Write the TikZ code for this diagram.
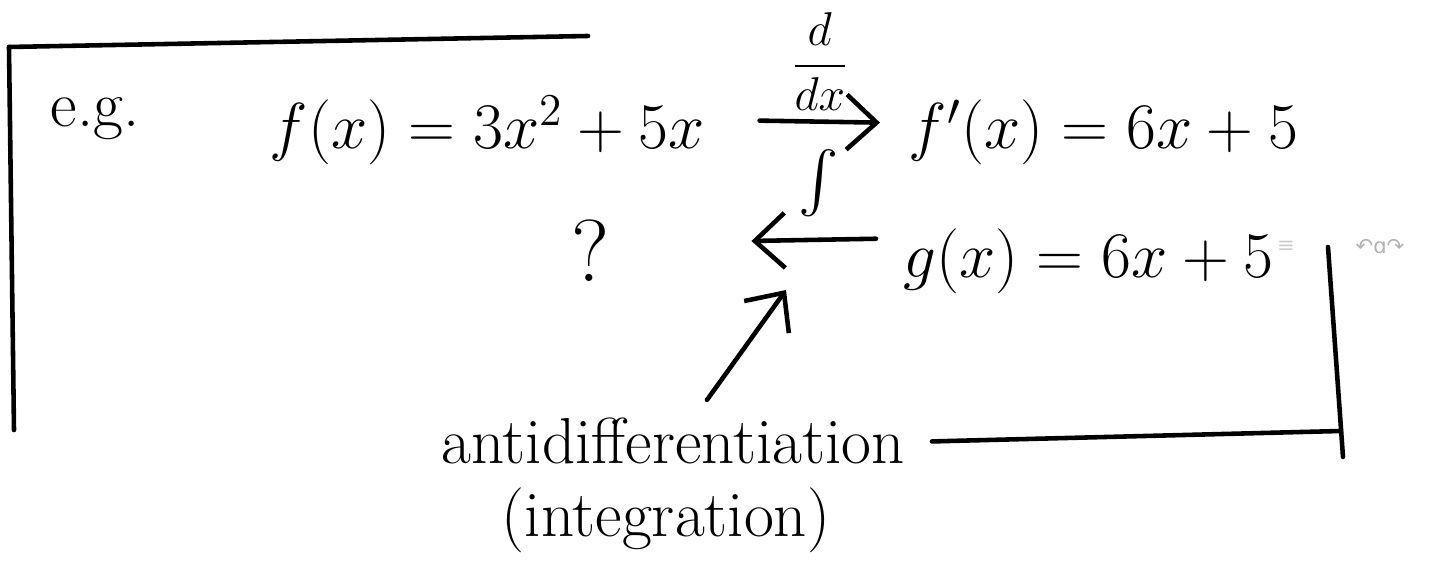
\documentclass[tikz,border=0pt]{standalone}
\usepackage{fix-cm}
\usepackage{amsmath}
\usepackage{fontspec}
\newfontfamily\symfont{DejaVu Sans}
\usetikzlibrary{arrows.meta}
\begin{document}
\begin{tikzpicture}[scale=1.0, every node/.style={font=\fontsize{18.5}{22}\selectfont},
    hand/.style={line width=1.3pt, line cap=round},
    barb/.style={-{Straight Barb[length=3mm,width=5.5mm]}}]
  \useasboundingbox (0,0) rectangle (14.31,5.69);
  \coordinate (cTL) at (0.09,5.22);
  \coordinate (cTR) at (5.88,5.33);
  \coordinate (cBL) at (0.14,1.39);
  \coordinate (cRT) at (13.28,3.22);
  \coordinate (cRB) at (13.43,1.12);
  \coordinate (cBR) at (13.41,1.38);
  \coordinate (tip) at (7.86,2.79);
  \draw[hand] (cTL) -- (cTR);
  \draw[hand] (cTL) -- (cBL);
  \draw[hand] (cRT) -- (cRB);
  \node (eg) at (0.95,4.50) {e.g.};
  \node[anchor=base west, inner sep=0] (f)  at (2.69,4.20) {$f(x) = 3x^2+5x$};
  \node[anchor=base west, inner sep=0] (fp) at (9.08,4.20) {$f'(x) = 6x+5$};
  \node[anchor=base west, inner sep=0] (g)  at (9.03,2.91) {$g(x) = 6x+5$};
  \node[font=\fontsize{25}{30}\selectfont] (q) at (5.91,3.18) {?};
  \node[inner sep=0] (int) at (8.19,3.86) {$\int$};
  \node[anchor=base] (anti)  at (6.73,1.05) {antidifferentiation};
  \node[anchor=base] (integ) at (6.66,0.32) {(integration)};
  \node[font=\symfont\fontsize{6}{7}\selectfont, text=black!30] (undo) at (13.80,3.22) {↶ɑ↷};
  \node[font=\symfont\fontsize{6}{7}\selectfont, text=black!20] (eqs)  at (12.86,3.22) {≡};
  \draw[hand, barb] ([xshift=5.4mm,yshift=1mm]f.east) -- ([xshift=-2.8mm,yshift=1mm]fp.west)
    node[midway, above=2pt, inner sep=0.5pt, font=\fontsize{13.5}{16}\selectfont] (ddx) {$\displaystyle\frac{d}{dx}$};
  \draw[hand, barb] ([xshift=-2.7mm,yshift=2.3mm]g.west) -- ([xshift=12.9mm,yshift=1mm]q.east);
  \draw[hand, barb] ([xshift=3.4mm,yshift=0.6mm]anti.north) -- (tip);
  \draw[hand] ([xshift=1.5mm]anti.east) -- (cBR);
\end{tikzpicture}
\end{document}
